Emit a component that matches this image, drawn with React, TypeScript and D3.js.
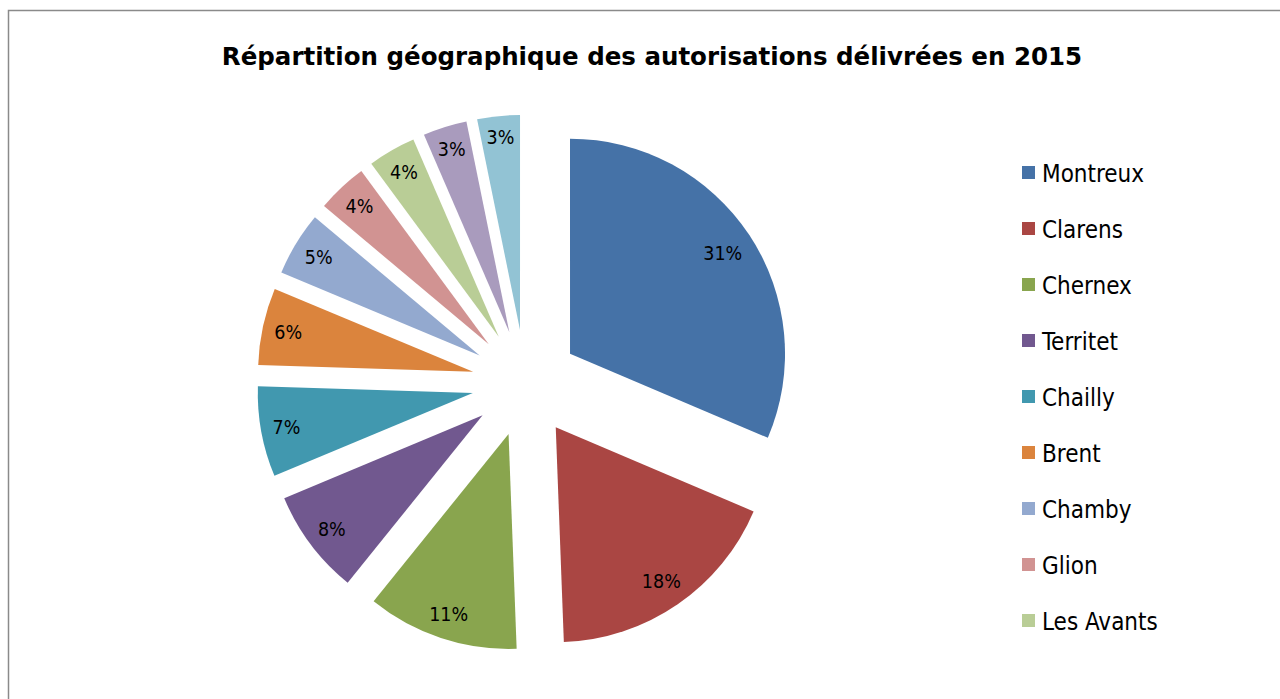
import React from 'react';
import * as d3 from 'd3';

// Répartition géographique des autorisations 2015 (parts en %)
const categories = [
  'Montreux', 'Clarens', 'Chernex', 'Territet', 'Chailly', 'Brent',
  'Chamby', 'Glion', 'Les Avants', 'Caux', 'Sonzier',
];
const values = [31.4, 18.0, 11.4, 7.9, 6.8, 5.8, 4.8, 3.8, 3.6, 3.3, 3.2];
const colors = [
  '#4572A7', '#AA4643', '#89A54E', '#71588F', '#4198AF', '#DB843D',
  '#93A9CF', '#D19392', '#B9CD96', '#A99BBD', '#92C3D4',
];
// la légende d'origine est tronquée après 9 entrées
const legendCount = 9;

const W = 1280;
const H = 699;
const cx = 525.4;
const cy = 383.2;
const radius = 215;
const explode = 53.5;
const labelOuter = 203.5;
const labelFont = 19.5;

const App = () => {
  const pie = d3.pie<number>().sort(null).startAngle(0).endAngle(2 * Math.PI);
  const arcs = pie(values);
  const arc = d3.arc<d3.PieArcDatum<number>>().innerRadius(0).outerRadius(radius);
  const total = d3.sum(values);

  const legendY = d3.scalePoint<string>()
    .domain(categories.slice(0, legendCount))
    .range([173, 621]);

  return (
    <svg width={W} height={H} style={{ position: 'absolute', left: 0, top: 0, background: '#fff' }}>
      <rect x={8.5} y={10.5} width={W + 10} height={H + 10} fill="#fff" stroke="#8a8a8a" strokeWidth={1.5} />
      <text
        x={652}
        y={65}
        textAnchor="middle"
        fontFamily="'DejaVu Sans', Verdana, sans-serif"
        fontWeight="bold"
        fontSize={24.5}
        fill="#000"
      >
        Répartition géographique des autorisations délivrées en 2015
      </text>

      <g transform={`translate(${cx},${cy})`}>
        {arcs.map((a, i) => {
          const mid = (a.startAngle + a.endAngle) / 2;
          const sx = Math.sin(mid);
          const sy = -Math.cos(mid);
          const label = `${Math.round((a.data / total) * 100)}%`;
          // étiquette « bord intérieur » : la boîte du texte reste dans la part
          const w = label.length * 0.66 * labelFont;
          const h = 0.8 * labelFont;
          const dist = labelOuter - (Math.abs(sx) * w / 2 + Math.abs(sy) * h / 2);
          return (
            <g key={categories[i]} transform={`translate(${sx * explode},${sy * explode})`}>
              <path d={arc(a) || ''} fill={colors[i]} />
              <text
                x={sx * dist}
                y={sy * dist}
                dy="0.36em"
                textAnchor="middle"
                fontFamily="'DejaVu Sans Condensed', 'DejaVu Sans', Tahoma, sans-serif"
                fontStretch="condensed"
                fontSize={labelFont}
                fill="#000"
              >
                {label}
              </text>
            </g>
          );
        })}
      </g>

      <g fontFamily="'DejaVu Sans Condensed', 'DejaVu Sans', Tahoma, sans-serif" fontStretch="condensed" fontSize={24}>
        {categories.slice(0, legendCount).map((c, i) => {
          const y = legendY(c) as number;
          return (
            <g key={c}>
              <rect x={1022} y={y - 7} width={13} height={13} fill={colors[i]} />
              <text x={1042} y={y + 9} fill="#000">{c}</text>
            </g>
          );
        })}
      </g>
    </svg>
  );
};

export default App;
